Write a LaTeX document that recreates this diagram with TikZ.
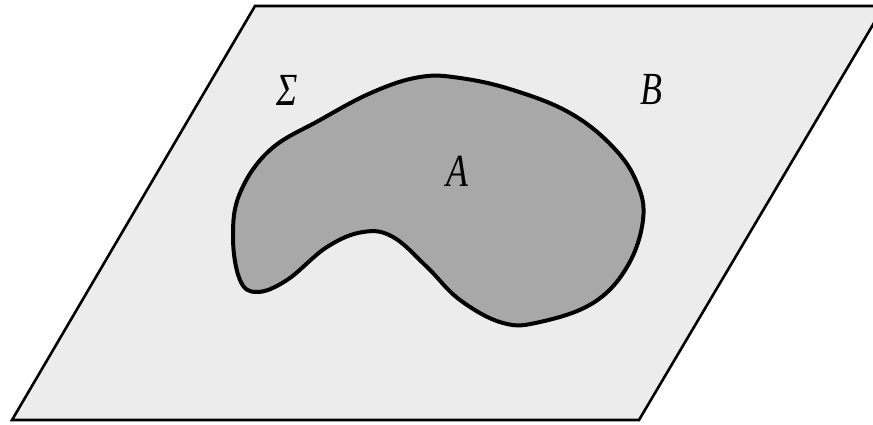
\documentclass[tikz,border=0pt]{standalone}
\usepackage{fontspec}
\newfontfamily\labelfont{Liberation Serif}[FakeStretch=0.78]
\definecolor{planefill}{gray}{0.925}
\definecolor{blobfill}{gray}{0.66}
\tikzset{
  plane/.style={draw=black, line width=2.6pt, fill=planefill, line join=miter},
  region/.style={draw=black, line width=4pt, fill=blobfill},
  lbl/.style={inner sep=0pt, font=\labelfont\itshape\fontsize{46}{46}\selectfont}
}
\begin{document}
\begin{tikzpicture}[x=1pt,y=-1pt]
\useasboundingbox (0,0) rectangle (873,424);
\clip (0,0) rectangle (873,424);
\draw[plane] (255,6) -- (884,6) -- (639,420) -- (12,420) -- cycle;
\draw[region] plot[smooth cycle, tension=0.65] coordinates {
  (420,77) (460,78) (513,90) (570,113) (613,147) (637,183) (643,220)
  (627,267) (593,303) (540,322) (503,323) (460,300) (427,267) (393,237)
  (363,232) (327,247) (287,280) (257,292) (240,280) (233,237) (240,193)
  (270,150) (320,120) (373,92)};
\node[lbl] (Sigma) at (287,90) {Σ};
\node[lbl] (B) at (651,90) {B};
\node[lbl] (A) at (457,171) {A};
\end{tikzpicture}
\end{document}
